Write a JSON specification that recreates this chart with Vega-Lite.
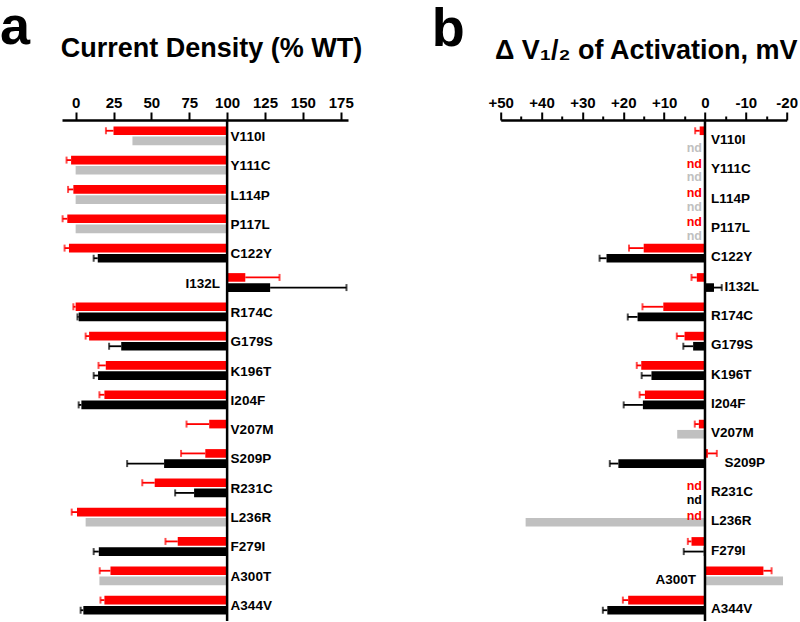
{
  "$schema": "https://vega.github.io/schema/vega-lite/v6.json",
  "padding": 0,
  "bounds": "flush",
  "spacing": 152.7,
  "config": {"view": {"stroke": null}, "font": "Liberation Sans"},
  "datasets": {
    "rows": [
      {"mutation": "V110I", "set": 1, "cat": "A", "density": 25, "density_err": 20, "dv": 1.3, "dv_err": 2.4},
      {"mutation": "V110I", "set": 2, "cat": "C", "density": 37.5, "density_err": null, "dv": null, "dv_err": null},
      {"mutation": "Y111C", "set": 1, "cat": "A", "density": -3, "density_err": -6, "dv": null, "dv_err": null},
      {"mutation": "Y111C", "set": 2, "cat": "C", "density": 0, "density_err": null, "dv": null, "dv_err": null},
      {"mutation": "L114P", "set": 1, "cat": "A", "density": -1.5, "density_err": -5, "dv": null, "dv_err": null},
      {"mutation": "L114P", "set": 2, "cat": "C", "density": 0, "density_err": null, "dv": null, "dv_err": null},
      {"mutation": "P117L", "set": 1, "cat": "A", "density": -5.5, "density_err": -8.6, "dv": null, "dv_err": null},
      {"mutation": "P117L", "set": 2, "cat": "C", "density": 0, "density_err": null, "dv": null, "dv_err": null},
      {"mutation": "C122Y", "set": 1, "cat": "A", "density": -4.4, "density_err": -7.3, "dv": 15, "dv_err": 18.6},
      {"mutation": "C122Y", "set": 2, "cat": "B", "density": 14.6, "density_err": 11.9, "dv": 24.1, "dv_err": 25.8},
      {"mutation": "I132L", "set": 1, "cat": "A", "density": 112, "density_err": 134.6, "dv": 2, "dv_err": 3.3},
      {"mutation": "I132L", "set": 2, "cat": "B", "density": 128.4, "density_err": 178.8, "dv": -2.2, "dv_err": -4.1},
      {"mutation": "R174C", "set": 1, "cat": "A", "density": 0, "density_err": -1.5, "dv": 10.2, "dv_err": 15.3},
      {"mutation": "R174C", "set": 2, "cat": "B", "density": 2, "density_err": 1.2, "dv": 16.5, "dv_err": 18.9},
      {"mutation": "G179S", "set": 1, "cat": "A", "density": 8.9, "density_err": 6.6, "dv": 5, "dv_err": 6.9},
      {"mutation": "G179S", "set": 2, "cat": "B", "density": 30.1, "density_err": 22.1, "dv": 2.9, "dv_err": 5.3},
      {"mutation": "K196T", "set": 1, "cat": "A", "density": 19.9, "density_err": 15.1, "dv": 15.6, "dv_err": 16.7},
      {"mutation": "K196T", "set": 2, "cat": "B", "density": 14.8, "density_err": 11.9, "dv": 13.1, "dv_err": 15.5},
      {"mutation": "I204F", "set": 1, "cat": "A", "density": 19, "density_err": 15.7, "dv": 14.7, "dv_err": 16},
      {"mutation": "I204F", "set": 2, "cat": "B", "density": 3.8, "density_err": 2, "dv": 15.2, "dv_err": 19.9},
      {"mutation": "V207M", "set": 1, "cat": "A", "density": 88.2, "density_err": 73.2, "dv": 1.5, "dv_err": 2.5},
      {"mutation": "V207M", "set": 2, "cat": "C", "density": null, "density_err": null, "dv": 6.8, "dv_err": null},
      {"mutation": "S209P", "set": 1, "cat": "A", "density": 85.6, "density_err": 69.6, "dv": -0.7, "dv_err": -2.9},
      {"mutation": "S209P", "set": 2, "cat": "B", "density": 58.4, "density_err": 34, "dv": 21.2, "dv_err": 23.3},
      {"mutation": "R231C", "set": 1, "cat": "A", "density": 52.2, "density_err": 44, "dv": null, "dv_err": null},
      {"mutation": "R231C", "set": 2, "cat": "B", "density": 78.2, "density_err": 65.7, "dv": null, "dv_err": null},
      {"mutation": "L236R", "set": 1, "cat": "A", "density": 0.9, "density_err": -2.6, "dv": null, "dv_err": null},
      {"mutation": "L236R", "set": 2, "cat": "C", "density": 6.6, "density_err": null, "dv": 43.9, "dv_err": null},
      {"mutation": "F279I", "set": 1, "cat": "A", "density": 67.4, "density_err": 59.3, "dv": 3.3, "dv_err": 4.2},
      {"mutation": "F279I", "set": 2, "cat": "B", "density": 15.3, "density_err": 11.9, "dv": 0.3, "dv_err": 5.2},
      {"mutation": "A300T", "set": 1, "cat": "A", "density": 23, "density_err": 15.9, "dv": -14.3, "dv_err": -16.3},
      {"mutation": "A300T", "set": 2, "cat": "C", "density": 15.7, "density_err": null, "dv": -19.1, "dv_err": null},
      {"mutation": "A344V", "set": 1, "cat": "A", "density": 19, "density_err": 16.4, "dv": 18.8, "dv_err": 20.1},
      {"mutation": "A344V", "set": 2, "cat": "B", "density": 5.1, "density_err": 3.3, "dv": 23.9, "dv_err": 25}
    ]
  },
  "hconcat": [
    {
      "width": 286,
      "height": 501,
      "title": {"text": "a", "anchor": "start", "frame": "group", "fontSize": 54, "fontWeight": "bold", "color": "#000000", "dx": -62, "offset": -20},
      "data": {"name": "rows"},
      "resolve": {"axis": {"x": "independent"}},
      "layer": [
        {
          "transform": [{"filter": "isValid(datum.density)"}],
          "mark": {"type": "bar"},
          "encoding": {
            "x": {"field": "density", "type": "quantitative",
              "scale": {"domain": [-9, 179.8], "nice": false, "zero": false},
              "axis": {"orient": "top", "values": [0, 25, 50, 75, 100, 125, 150, 175],
                "grid": false, "domainColor": "#000000", "domainWidth": 2.5, "tickColor": "#000000", "tickWidth": 2, "tickSize": 8,
                "labelFontSize": 15, "labelFontWeight": "bold", "labelColor": "#000000", "labelPadding": 1.5,
                "labelFlush": false, "labelOverlap": false, "labelBound": false,
                "title": "Current Density (% WT)", "titleFontSize": 27, "titleFontWeight": "bold", "titleColor": "#000000",
                "titlePadding": 33, "titleX": 149}},
            "x2": {"datum": 100},
            "y": {"field": "mutation", "type": "nominal", "axis": null,
              "scale": {"domain": ["V110I","Y111C","L114P","P117L","C122Y","I132L","R174C","G179S","K196T","I204F","V207M","S209P","R231C","L236R","F279I","A300T","A344V"], "paddingInner": 0.36, "paddingOuter": 0.22}},
            "yOffset": {"field": "set", "type": "nominal", "scale": {"paddingInner": 0.15, "paddingOuter": 0}},
            "color": {"field": "cat", "type": "nominal", "legend": null,
              "scale": {"domain": ["A", "B", "C"], "range": ["#ff0000", "#000000", "#c0c0c0"]}}
          }
        },
        {
          "transform": [{"filter": "isValid(datum.density_err)"}],
          "mark": {"type": "rule", "strokeWidth": 1.8},
          "encoding": {
            "x": {"field": "density", "type": "quantitative", "axis": null},
            "x2": {"field": "density_err"},
            "y": {"field": "mutation", "type": "nominal", "axis": null},
            "yOffset": {"field": "set", "type": "nominal"},
            "color": {"field": "cat", "type": "nominal", "legend": null}
          }
        },
        {
          "transform": [{"filter": "isValid(datum.density_err)"}],
          "mark": {"type": "tick", "size": 7, "thickness": 2},
          "encoding": {
            "x": {"field": "density_err", "type": "quantitative", "axis": null},
            "y": {"field": "mutation", "type": "nominal", "axis": null},
            "yOffset": {"field": "set", "type": "nominal"},
            "color": {"field": "cat", "type": "nominal", "legend": null}
          }
        },
        {
          "data": {"values": [{"reference": 100}]},
          "mark": {"type": "rule", "strokeWidth": 2.5, "color": "#000000"},
          "encoding": {"x": {"field": "reference", "type": "quantitative", "axis": null}}
        },
        {
          "transform": [{"filter": "datum.set == 1 && datum.mutation != 'I132L'"}],
          "mark": {"type": "text", "align": "left", "baseline": "middle", "dx": 3.5, "dy": 1, "fontSize": 13.5, "fontWeight": "bold", "color": "#000000"},
          "encoding": {
            "x": {"datum": 100, "type": "quantitative", "axis": null},
            "y": {"field": "mutation", "type": "nominal", "axis": null},
            "text": {"field": "mutation"}
          }
        },
        {
          "transform": [{"filter": "datum.set == 1 && datum.mutation == 'I132L'"}],
          "mark": {"type": "text", "align": "right", "baseline": "middle", "dx": -7, "dy": 1, "fontSize": 13.5, "fontWeight": "bold", "color": "#000000"},
          "encoding": {
            "x": {"datum": 100, "type": "quantitative", "axis": null},
            "y": {"field": "mutation", "type": "nominal", "axis": null},
            "text": {"field": "mutation"}
          }
        }
      ]
    },
    {
      "width": 286,
      "height": 501,
      "title": {"text": "b", "anchor": "start", "frame": "group", "fontSize": 54, "fontWeight": "bold", "color": "#000000", "dx": -69, "offset": -20},
      "data": {"name": "rows"},
      "resolve": {"axis": {"x": "independent"}},
      "layer": [
        {
          "transform": [{"filter": "isValid(datum.dv)"}],
          "mark": {"type": "bar"},
          "encoding": {
            "x": {"field": "dv", "type": "quantitative",
              "scale": {"domain": [-20, 50], "reverse": true, "nice": false, "zero": false},
              "axis": {"orient": "top", "values": [-20, -10, 0, 10, 20, 30, 40, 50],
                "labelExpr": "datum.value > 0 ? '+' + datum.value : '' + datum.value",
                "grid": false, "domainColor": "#000000", "domainWidth": 2.5, "tickColor": "#000000", "tickWidth": 2, "tickSize": 8,
                "labelFontSize": 15, "labelFontWeight": "bold", "labelColor": "#000000", "labelPadding": 1.5,
                "labelFlush": false, "labelOverlap": false, "labelBound": false,
                "title": "Δ V₁/₂ of Activation, mV", "titleFontSize": 27, "titleFontWeight": "bold", "titleColor": "#000000",
                "titlePadding": 31, "titleX": 145}},
            "x2": {"datum": 0},
            "y": {"field": "mutation", "type": "nominal", "axis": null,
              "scale": {"domain": ["V110I","Y111C","L114P","P117L","C122Y","I132L","R174C","G179S","K196T","I204F","V207M","S209P","R231C","L236R","F279I","A300T","A344V"], "paddingInner": 0.36, "paddingOuter": 0.22}},
            "yOffset": {"field": "set", "type": "nominal", "scale": {"paddingInner": 0.15, "paddingOuter": 0}},
            "color": {"field": "cat", "type": "nominal", "legend": null,
              "scale": {"domain": ["A", "B", "C"], "range": ["#ff0000", "#000000", "#c0c0c0"]}}
          }
        },
        {
          "transform": [{"filter": "isValid(datum.dv_err)"}],
          "mark": {"type": "rule", "strokeWidth": 1.8},
          "encoding": {
            "x": {"field": "dv", "type": "quantitative", "axis": null},
            "x2": {"field": "dv_err"},
            "y": {"field": "mutation", "type": "nominal", "axis": null},
            "yOffset": {"field": "set", "type": "nominal"},
            "color": {"field": "cat", "type": "nominal", "legend": null}
          }
        },
        {
          "transform": [{"filter": "isValid(datum.dv_err)"}],
          "mark": {"type": "tick", "size": 7, "thickness": 2},
          "encoding": {
            "x": {"field": "dv_err", "type": "quantitative", "axis": null},
            "y": {"field": "mutation", "type": "nominal", "axis": null},
            "yOffset": {"field": "set", "type": "nominal"},
            "color": {"field": "cat", "type": "nominal", "legend": null}
          }
        },
        {
          "data": {"values": [{"reference": 0}]},
          "mark": {"type": "rule", "strokeWidth": 2.5, "color": "#000000"},
          "encoding": {"x": {"field": "reference", "type": "quantitative",
            "axis": {"orient": "top", "values": [-15, -5, 5, 15, 25, 35, 45], "labels": false, "domain": false, "grid": false,
              "ticks": true, "tickSize": 4, "tickWidth": 2, "tickColor": "#000000", "title": null}}}
        },
        {
          "transform": [{"filter": "!isValid(datum.dv) && datum.set == 1"}],
          "mark": {"type": "text", "align": "right", "baseline": "middle", "dx": -3, "dy": 3.5, "fontSize": 12.5, "fontWeight": "bold"},
          "encoding": {
            "x": {"datum": 0, "type": "quantitative", "axis": null},
            "y": {"field": "mutation", "type": "nominal", "axis": null},
            "yOffset": {"field": "set", "type": "nominal"},
            "text": {"value": "nd"},
            "color": {"field": "cat", "type": "nominal", "legend": null}
          }
        },
        {
          "transform": [{"filter": "!isValid(datum.dv) && datum.set == 2"}],
          "mark": {"type": "text", "align": "right", "baseline": "middle", "dx": -3, "dy": 7, "fontSize": 12.5, "fontWeight": "bold"},
          "encoding": {
            "x": {"datum": 0, "type": "quantitative", "axis": null},
            "y": {"field": "mutation", "type": "nominal", "axis": null},
            "yOffset": {"field": "set", "type": "nominal"},
            "text": {"value": "nd"},
            "color": {"field": "cat", "type": "nominal", "legend": null}
          }
        },
        {
          "transform": [{"filter": "datum.set == 1 && indexof(['I132L','S209P','A300T'], datum.mutation) < 0"}],
          "mark": {"type": "text", "align": "left", "baseline": "middle", "dx": 6, "dy": 4.3, "fontSize": 13.5, "fontWeight": "bold", "color": "#000000"},
          "encoding": {
            "x": {"datum": 0, "type": "quantitative", "axis": null},
            "y": {"field": "mutation", "type": "nominal", "axis": null},
            "text": {"field": "mutation"}
          }
        },
        {
          "transform": [{"filter": "datum.set == 1 && (datum.mutation == 'I132L' || datum.mutation == 'S209P')"}],
          "mark": {"type": "text", "align": "left", "baseline": "middle", "dx": 19.5, "dy": 4.3, "fontSize": 13.5, "fontWeight": "bold", "color": "#000000"},
          "encoding": {
            "x": {"datum": 0, "type": "quantitative", "axis": null},
            "y": {"field": "mutation", "type": "nominal", "axis": null},
            "text": {"field": "mutation"}
          }
        },
        {
          "transform": [{"filter": "datum.set == 1 && datum.mutation == 'A300T'"}],
          "mark": {"type": "text", "align": "right", "baseline": "middle", "dx": -9, "dy": 4.3, "fontSize": 13.5, "fontWeight": "bold", "color": "#000000"},
          "encoding": {
            "x": {"datum": 0, "type": "quantitative", "axis": null},
            "y": {"field": "mutation", "type": "nominal", "axis": null},
            "text": {"field": "mutation"}
          }
        }
      ]
    }
  ]
}
